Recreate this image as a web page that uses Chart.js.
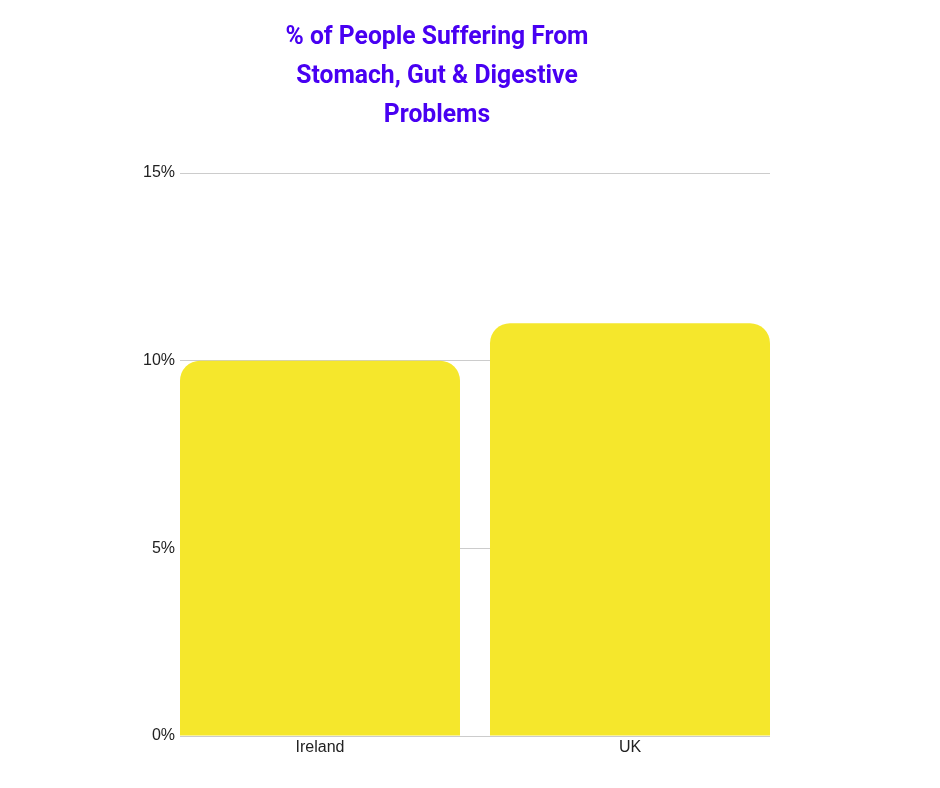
<!DOCTYPE html>
<html>
<head>
<meta charset="utf-8">
<script src="https://cdn.jsdelivr.net/npm/chart.js@4.4.1/dist/chart.umd.min.js"></script>
<style>
  html, body { margin: 0; padding: 0; background: #fff; }
  .wrap { position: relative; width: 940px; height: 788px; }
  .title {
    position: absolute; left: 137px; top: 16px; width: 600px;
    text-align: center; color: #4800f2;
    font-family: Roboto, sans-serif; font-weight: 700; font-size: 26px; line-height: 39px;
    transform: scaleX(0.95); transform-origin: center top;
  }
  canvas { position: absolute; left: 0; top: 0; }
</style>
</head>
<body>
<div class="wrap">
  <canvas id="chart" width="940" height="788"></canvas>
  <div class="title">% of People Suffering From<br>Stomach, Gut &amp; Digestive<br>Problems</div>
</div>
<script>
const countries = ['Ireland', 'UK'];
const sufferingPct = [10, 11];
const yTicks = [0, 5, 10, 15];

const points = countries.map((c, i) => ({ x: i, y: sufferingPct[i] }));

const ctx = document.getElementById('chart').getContext('2d');
new Chart(ctx, {
  type: 'bar',
  data: {
    datasets: [{
      label: '% suffering',
      data: points,
      backgroundColor: '#f5e72c',
      borderRadius: { topLeft: 20, topRight: 20 },
      borderSkipped: 'start',
      categoryPercentage: 1,
      barPercentage: 0.9032
    }]
  },
  options: {
    responsive: false,
    animation: false,
    layout: { padding: { left: 130, right: 170, top: 173, bottom: 22 } },
    plugins: { legend: { display: false }, tooltip: { enabled: false }, title: { display: false } },
    scales: {
      x: {
        type: 'linear',
        offset: false,
        min: -0.4516,
        max: countries.length - 1 + 0.4516,
        grid: { display: false, drawTicks: false },
        border: { display: false },
        afterFit: s => { s.height = 30; },
        afterBuildTicks: s => { s.ticks = countries.map((c, i) => ({ value: i })); },
        ticks: {
          padding: 2,
          color: '#222',
          font: { family: '"Liberation Sans", Arial, sans-serif', size: 16 },
          callback: v => countries[v]
        }
      },
      y: {
        min: 0,
        max: 15,
        afterFit: s => { s.width = 50; },
        afterBuildTicks: s => { s.ticks = yTicks.map(v => ({ value: v })); },
        grid: { color: '#cccccc', drawTicks: false },
        border: { display: false },
        ticks: {
          padding: 5,
          color: '#222',
          font: { family: '"Liberation Sans", Arial, sans-serif', size: 16 },
          callback: v => v + '%'
        }
      }
    }
  }
});
</script>
</body>
</html>
